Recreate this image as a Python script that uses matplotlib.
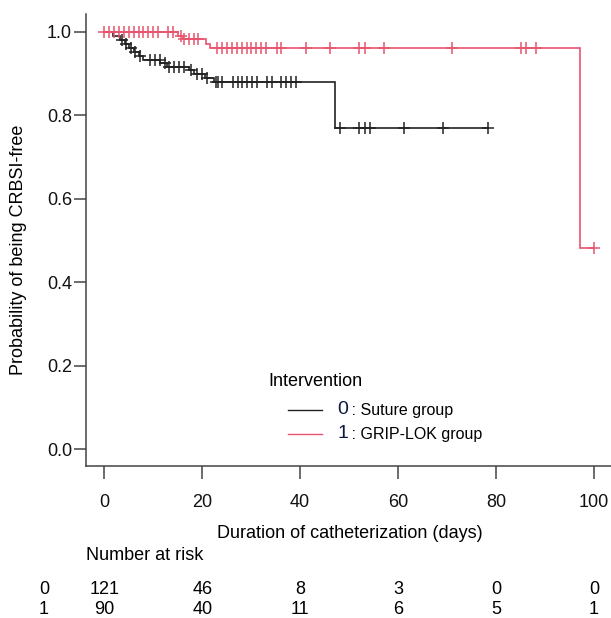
import matplotlib
matplotlib.use("Agg")
import matplotlib.pyplot as plt
from matplotlib.lines import Line2D
from matplotlib.transforms import blended_transform_factory

plt.rcParams['font.family'] = ['Liberation Sans', 'DejaVu Sans']

# ---- data ----
# Group 0: Suture group (black)
s0_event_times = [1.8, 3.2, 4.2, 5.1, 6.0, 7.0, 7.9, 11.4, 12.8, 17.3, 18.3, 20.5, 22.3, 47.1]
s0_surv        = [0.991, 0.981, 0.972, 0.962, 0.952, 0.942, 0.932, 0.925, 0.917, 0.908, 0.899, 0.889, 0.879, 0.769]
s0_end = 78.3
s0_cens = [3.6, 4.5, 5.4, 6.3, 7.3, 9.4, 10.4, 11.3, 12.3, 13.3, 14.3, 15.3, 16.3, 17.8, 19.0, 20.0, 21.0, 22.8,
           23.3, 24.1, 26.3, 27.3, 28.2, 29.2, 30.2, 31.2, 33.2, 34.2, 36.1, 37.1, 38.1, 39.2,
           48.1, 52.1, 53.3, 54.3, 61.2, 69.2, 78.3]

# Group 1: GRIP-LOK group (red)
s1_event_times = [15.1, 16.0, 20.8, 21.5, 97.2]
s1_surv        = [0.991, 0.983, 0.972, 0.961, 0.481]
s1_end = 100.0
s1_cens = [0, 1, 2, 3, 4, 5, 6, 7, 8, 9, 10, 11, 13, 14, 15.6, 16.3, 17.3, 18.3, 19.2,
           23.1, 24.1, 25.1, 26.1, 27.0, 28.1, 29.1, 30.0, 31.0, 32.0, 33.0, 35.2, 36.1,
           41.2, 46.1, 52.1, 53.2, 57.1, 71.1, 85.1, 86.1, 88.2, 100.0]

risk_times = [0, 20, 40, 60, 80, 100]
risk_0 = [121, 46, 8, 3, 0, 0]
risk_1 = [90, 40, 11, 6, 5, 1]
group_labels = ["0", "1"]
group_names = ["Suture group", "GRIP-LOK group"]

x_ticks = [0, 20, 40, 60, 80, 100]
y_ticks = [0.0, 0.2, 0.4, 0.6, 0.8, 1.0]

BLACK = "#222222"
RED = "#e8536e"
FS = 13


def step_xy(times, surv, end):
    xs = [0.0]
    ys = [1.0]
    for t, s in zip(times, surv):
        xs += [t, t]
        ys += [ys[-1], s]
    xs.append(end)
    ys.append(ys[-1])
    return xs, ys


def surv_at(t, times, surv):
    s = 1.0
    for tt, ss in zip(times, surv):
        if tt <= t:
            s = ss
    return s


W, H = 611, 618
fig = plt.figure(figsize=(W / 100, H / 100), dpi=100)
ax = fig.add_axes([86 / W, (H - 466) / H, (640 - 86) / W, (466 - 14) / H])
px_per_day = (594 - 104.3) / 100
ax.set_xlim((86 - 104.3) / px_per_day, (640 - 104.3) / px_per_day)
ax.set_ylim((449 - 466) / 417, (449 - 14) / 417)

for times, surv, end, cens, col in [
    (s0_event_times, s0_surv, s0_end, s0_cens, BLACK),
    (s1_event_times, s1_surv, s1_end, s1_cens, RED),
]:
    xs, ys = step_xy(times, surv, end)
    ax.plot(xs, ys, color=col, lw=1.2, solid_joinstyle='miter', clip_on=False)
    cy = [surv_at(c, times, surv) for c in cens]
    ax.plot(cens, cy, ls='none', marker='+', ms=8, mew=1.1, color=col, clip_on=False)

for sp in ['top', 'right']:
    ax.spines[sp].set_visible(False)
for sp in ['left', 'bottom']:
    ax.spines[sp].set_color('#444444')
    ax.spines[sp].set_linewidth(1.1)

ax.set_xticks(x_ticks)
ax.set_xticklabels([str(v) for v in x_ticks])
ax.set_yticks(y_ticks)
ax.set_yticklabels([f"{v:.1f}" for v in y_ticks])
ax.tick_params(direction='out', length=9, width=1.1, color='#444444', labelsize=FS,
               labelcolor='#111111', pad=11)
ax.tick_params(axis='y', pad=1)

fig.text(19 / W, 1 - 250 / H, "Probability of being CRBSI-free", fontsize=FS,
         rotation=90, va='center', ha='center')
fig.text(350 / W, 1 - 533 / H, "Duration of catheterization (days)", fontsize=FS,
         va='center', ha='center')

# Legend (manual, R style)
fig.text(268 / W, 1 - 382 / H, "Intervention", fontsize=FS, va='center', ha='left')
for i, (col, lab, name) in enumerate(zip([BLACK, RED], group_labels, group_names)):
    yy = 1 - (410 + 24 * i) / H
    fig.add_artist(Line2D([288 / W, 322 / W], [yy, yy], color=col, lw=1.0, transform=fig.transFigure))
    fig.text(337 / W, yy, lab, fontsize=14, va='center', ha='left', color='#0b1a40')
    fig.text(347 / W, yy, " : " + name, fontsize=11.5, va='center', ha='left')

# Number at risk table
trans = blended_transform_factory(ax.transData, fig.transFigure)
fig.text(86 / W, 1 - 556 / H, "Number at risk", fontsize=FS, va='center', ha='left')
for row, (lab, vals) in enumerate(zip(group_labels, [risk_0, risk_1])):
    yy = 1 - (589 + 21 * row) / H
    fig.text(44 / W, yy, lab, fontsize=FS, va='center', ha='center')
    for t, v in zip(risk_times, vals):
        ax.text(t, yy, str(v), transform=trans, fontsize=FS, va='center', ha='center', clip_on=False)

fig.savefig("out.png", dpi=100)
